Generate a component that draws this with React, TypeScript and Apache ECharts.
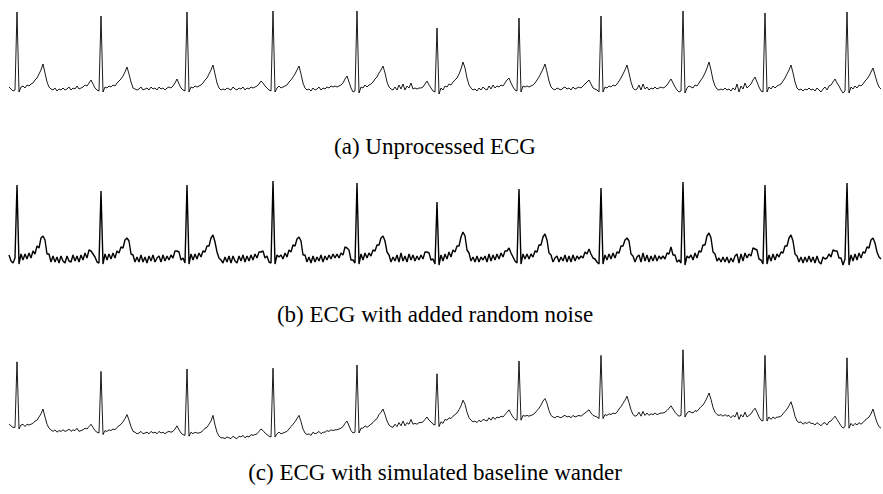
import React, { useEffect, useRef } from "react";
import * as echarts from "echarts";

// Amplitudes (arbitrary units, baseline = 0), one sample every ~23 ms
const ecgRaw: number[] = [
  1, -1, -3, -2,
  76, -4, 1, 2, 0, 3, 2, 4, 5, 8, 10, 14, 18, 24, 15, 6, 1, -1,
  -2, 0, -3, -1, -2, 0, -2, -1, 1, -2, 0, -1, 2, -1, 0, 1, 3, 2, 5, 8, 4, 0, -2, -3,
  72, -4, 1, 0, 2, 1, 3, 2, 5, 7, 9, 12, 16, 21, 14, 6, 0, -1,
  -2, -1, 1, -2, -1, 0, -2, 1, -1, 0, -2, 1, -1, 0, -2, 0, 1, 0, 2, 5, 9, 4, 0, -2, -3,
  76, -4, 1, 0, 2, 1, 2, 3, 5, 8, 10, 14, 18, 23, 14, 5, 0, -2,
  -1, -2, 0, -1, -2, 1, -1, -2, 0, -1, 1, -2, 0, -1, 1, 0, 1, 2, 4, 7, 5, 2, 0, -2, -3,
  77, -4, 0, 2, 0, 1, 2, 3, 6, 8, 11, 14, 18, 22, 14, 5, 0, -2,
  -1, -3, 0, -2, -1, 1, -2, 0, -1, 1, 0, 2, 1, 2, 1, 2, 3, 5, 9, 12, 6, 0, -4, -3,
  77, -5, 1, 0, 3, 1, 3, 4, 6, 9, 11, 15, 18, 22, 15, 6, 1, -1,
  -2, 1, -2, 3, -1, 4, -2, 2, 0, 5, -1, 0, -1, 0, 0, 1, 4, 7, 3, 0, -3, -4,
  60, -6, 0, -2, 2, 1, 4, 3, 6, 8, 10, 14, 19, 26, 20, 10, 3, 0,
  -2, -1, -3, 0, -2, 1, -1, -2, 2, -1, 3, 0, 2, 1, 3, 2, 5, 8, 10, 5, 1, -2, -3,
  70, -4, 2, 1, 2, 1, 2, 3, 5, 8, 11, 15, 19, 24, 16, 7, 1, -1,
  -2, 0, -1, -2, 0, 1, -1, 0, -2, 1, -1, 0, 1, 0, 2, 4, 6, 8, 4, 0, -1, -2, -4,
  72, -4, 1, 0, 2, 1, 3, 2, 4, 7, 10, 14, 18, 23, 15, 6, 0, -2,
  -1, 3, -2, 4, -1, 1, -2, 0, -1, 1, -1, 0, 1, 0, 1, 3, 6, 9, 5, 1, -2, -4, -3,
  77, -5, 0, 2, 1, 0, 3, 2, 5, 8, 11, 15, 20, 26, 18, 8, 2, -1,
  -2, -1, -2, 0, -2, -1, -3, 0, -2, 4, -4, 2, -1, 5, 0, 2, 4, 8, 11, 6, 1, -3, -4,
  75, -4, 1, -1, 2, 0, 2, 3, 4, 7, 10, 14, 18, 23, 15, 6, 0, -2,
  -1, -3, -1, -2, 0, -2, -1, -3, 0, -2, -4, -1, 1, -2, 2, 3, 6, 9, 5, 2, -2, -5, -3,
  76, -5, 1, -1, 2, 0, 3, 2, 4, 7, 9, 12, 16, 20, 13, 6, 1, -1,
];

const ecgNoisy: number[] = [
  3, -3, -5, 0,
  73, -6, 4, -2, 4, -1, 5, 0, 7, 4, 12, 10, 20, 22, 18, 4, 4, -4,
  2, -4, 1, -5, 2, -3, -5, 2, -3, -4, 3, -3, 2, -4, 3, -2, 5, 0, 8, 7, 4, 1, -4, -5,
  67, -6, 4, -2, 4, -1, 5, 0, 7, 5, 11, 10, 18, 20, 17, 4, 3, -4,
  1, -4, 3, -4, 1, -5, 2, -3, 3, -4, 0, 2, -4, 3, -3, 2, -2, 3, 0, 7, 7, 6, -2, 0, -5,
  73, -6, 4, -2, 4, -1, 5, 1, 7, 6, 12, 12, 20, 23, 16, 6, 0, -2,
  -5, 1, -4, 2, -5, 2, -3, -5, 2, -3, 3, -4, 2, -3, 3, -2, 4, 0, 6, 6, 7, 0, 2, -4, -5,
  77, -6, 3, 1, 3, -1, 5, 1, 8, 6, 13, 12, 19, 21, 17, 3, 3, -4,
  1, -5, 2, -4, 1, -3, 3, -4, 2, -2, 3, -1, 4, 0, 4, 0, 5, 3, 11, 10, 8, -2, -2, -5,
  75, -6, 4, -2, 5, 0, 5, 2, 8, 7, 13, 13, 20, 22, 17, 6, 3, -4,
  1, -3, 3, -4, 5, -3, 2, -4, 4, -2, 3, -3, 2, -2, 3, -1, 6, 6, 5, -2, -1, -6,
  56, -7, 3, -3, 4, -1, 6, 1, 8, 6, 12, 12, 21, 26, 22, 8, 5, -3,
  1, -4, 2, -4, 1, -2, 2, -4, 4, -3, 3, -2, 4, -1, 5, 1, 7, 7, 10, 5, 1, -3, -5,
  69, -6, 4, -1, 4, -1, 4, 1, 7, 6, 13, 13, 21, 24, 18, 5, 3, -4,
  0, 2, -4, 1, -3, 3, -4, 2, -4, 3, -3, 2, -1, 2, 0, 6, 4, 9, 4, 0, -1, -4, -6,
  70, -6, 3, -2, 4, -1, 5, 0, 6, 5, 12, 12, 18, 20, 17, 4, 2, -4,
  1, 3, -4, 5, -3, 3, -4, 2, -3, 3, -3, 2, -1, 2, -1, 5, 4, 11, 3, 3, -4, -2, -5,
  76, -7, 2, 0, 3, -2, 5, 0, 7, 6, 13, 13, 22, 25, 20, 6, 4, -3,
  0, -4, 1, -4, 1, -5, 0, -4, 2, 4, -5, 4, -3, 5, 0, 4, 2, 10, 9, 8, -1, -2, -6,
  73, -6, 3, -3, 4, -2, 4, 1, 6, 5, 12, 12, 20, 23, 17, 4, 2, -4,
  1, -5, 1, -4, 2, -4, 1, -5, 2, -4, -6, 1, -1, 0, 4, 1, 8, 7, 7, 0, 0, -7, -1,
  75, -7, 3, -3, 4, -2, 5, 0, 6, 5, 11, 10, 18, 20, 15, 6, 1, -1,
];

const ecgWander: number[] = [
  1, -1, -3, -3,
  79, -5, 0, 1, -2, 1, 0, 1, 2, 5, 6, 10, 14, 20, 10, 1, -4, -6,
  -8, -6, -9, -7, -8, -6, -8, -7, -5, -8, -6, -7, -4, -8, -7, -6, -4, -5, -2, 1, -3, -7, -9, -10,
  67, -12, -7, -8, -6, -7, -5, -6, -3, -1, 1, 4, 8, 13, 6, -2, -8, -9,
  -11, -10, -8, -11, -10, -9, -11, -8, -10, -9, -11, -8, -10, -9, -11, -9, -8, -9, -8, -5, -1, -6, -10, -12, -13,
  70, -14, -9, -11, -9, -10, -10, -9, -7, -4, -3, 1, 5, 12, 0, -9, -14, -16,
  -16, -17, -15, -16, -17, -14, -16, -17, -14, -15, -13, -16, -14, -15, -12, -13, -12, -11, -8, -5, -7, -10, -12, -14, -15,
  71, -15, -11, -9, -11, -10, -9, -8, -5, -2, 1, 4, 8, 12, 4, -5, -10, -12,
  -11, -13, -9, -11, -10, -8, -11, -9, -9, -7, -8, -6, -7, -6, -6, -5, -4, -2, 2, 5, -1, -7, -10, -9,
  75, -10, -4, -4, -1, -3, -1, 1, 3, 6, 8, 13, 16, 20, 13, 5, 0, -2,
  -3, 1, -2, 3, -1, 5, -1, 3, 1, 7, 1, 2, 1, 3, 3, 4, 7, 10, 6, 4, 1, 0,
  64, -2, 4, 2, 7, 6, 9, 8, 11, 13, 15, 19, 24, 31, 26, 16, 9, 6,
  4, 5, 3, 6, 4, 7, 6, 5, 9, 6, 10, 7, 10, 9, 11, 10, 13, 16, 19, 14, 10, 7, 6,
  80, 6, 12, 11, 12, 11, 12, 13, 15, 18, 21, 25, 30, 33, 27, 18, 12, 10,
  9, 11, 10, 9, 11, 12, 10, 11, 9, 12, 10, 11, 12, 11, 13, 15, 17, 19, 15, 12, 11, 10, 8,
  87, 8, 13, 12, 14, 13, 15, 14, 16, 20, 23, 27, 31, 36, 28, 19, 13, 11,
  12, 16, 11, 17, 12, 15, 12, 14, 13, 15, 13, 14, 15, 15, 16, 18, 21, 24, 20, 16, 13, 11, 12,
  94, 10, 15, 17, 16, 15, 18, 17, 20, 23, 25, 29, 34, 40, 32, 22, 16, 13,
  12, 13, 11, 13, 11, 12, 9, 12, 10, 16, 7, 13, 10, 16, 10, 12, 14, 18, 21, 16, 10, 6, 5,
  87, 5, 10, 7, 10, 8, 10, 10, 11, 14, 17, 20, 24, 29, 21, 11, 5, 3,
  4, 1, 3, 2, 4, 2, 2, 0, 3, 1, -1, 2, 3, 0, 4, 5, 8, 11, 7, 3, -1, -4, -2,
  84, -4, 2, -1, 2, 0, 3, 1, 3, 6, 8, 10, 14, 20, 11, 3, -2, -4,
];

const captions: string[] = [
  "(a) Unprocessed ECG",
  "(b) ECG with added random noise",
  "(c) ECG with simulated baseline wander",
];

export default function App() {
  const ref = useRef<HTMLDivElement>(null);
  useEffect(() => {
    if (!ref.current) return;
    const chart = echarts.init(ref.current, undefined, { renderer: "svg" });
    const idx = ecgRaw.map((_, i) => i);
    const traces = [ecgRaw, ecgNoisy, ecgWander];
    const grids = [
      { left: 9, width: 872, top: 8, height: 90 },
      { left: 9, width: 872, top: 178, height: 90 },
      { left: 9, width: 872, top: 345, height: 96 },
    ];
    const yRanges = [
      [-10, 80],
      [-10, 80],
      [-20, 100],
    ];
    const widths = [0.9, 1.4, 0.9];
    const captionY = [146, 314, 472];
    chart.setOption({
      animation: false,
      backgroundColor: "#ffffff",
      grid: grids,
      graphic: captions.map((t, k) => ({
        type: "text",
        x: 435,
        y: captionY[k],
        silent: true,
        style: {
          text: t,
          fill: "#000",
          font: "23px 'Liberation Serif', 'Times New Roman', serif",
          textAlign: "center",
          textVerticalAlign: "middle",
        },
      })),
      xAxis: traces.map((_, k) => ({
        type: "category",
        gridIndex: k,
        data: idx,
        boundaryGap: false,
        show: false,
      })),
      yAxis: traces.map((_, k) => ({
        type: "value",
        gridIndex: k,
        min: yRanges[k][0],
        max: yRanges[k][1],
        show: false,
      })),
      series: traces.map((d, k) => ({
        type: "line",
        xAxisIndex: k,
        yAxisIndex: k,
        data: d,
        symbol: "none",
        silent: true,
        lineStyle: { color: "#000", width: widths[k] },
      })),
    });
    return () => chart.dispose();
  }, []);
  return (
    <div
      ref={ref}
      style={{ position: "fixed", left: 0, top: 0, width: 883, height: 494 }}
    />
  );
}
